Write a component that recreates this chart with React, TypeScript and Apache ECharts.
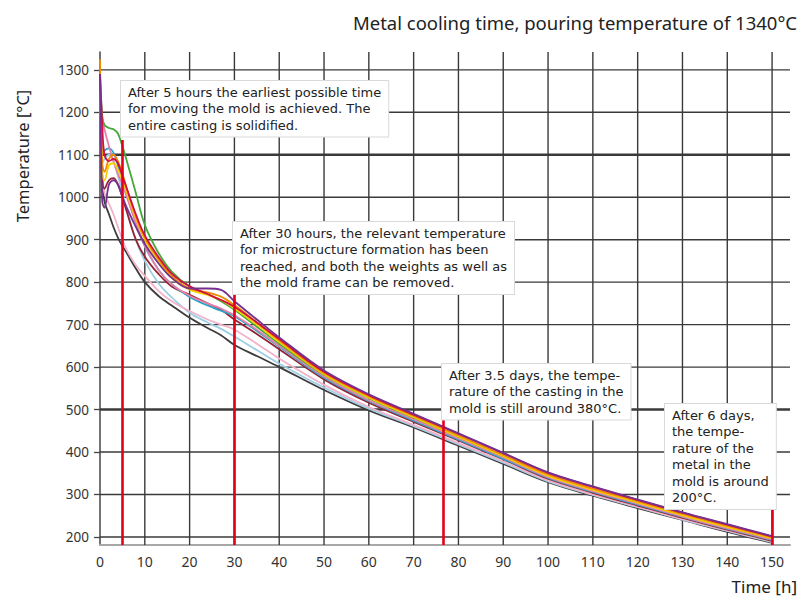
import React, { useEffect, useRef } from 'react';
import * as echarts from 'echarts';

// Time axis (hours) shared by all cooling curves
const hours = [0, 0.5, 1, 2, 3, 4, 5, 6, 8, 10, 13, 16, 20, 24, 27, 30, 35, 40, 50, 60, 70, 80, 90, 100, 110, 120, 130, 140, 150];

// Temperature readings [°C] per thermocouple curve
const darkGray = [1290, 1040, 990, 960, 930, 905, 885, 868, 832, 800, 768, 745, 716, 692, 675, 652, 626, 600, 546, 498, 458, 415, 372, 329, 297, 268, 240, 212, 186];
const lightBlue = [1290, 1080, 1090, 1100, 1085, 1050, 1010, 970, 900, 850, 798, 764, 728, 705, 690, 672, 640, 608, 552, 502, 461, 418, 375, 331, 299, 270, 241, 214, 188];
const lightPink = [1290, 1060, 1010, 985, 960, 930, 900, 875, 840, 815, 780, 755, 732, 712, 700, 688, 655, 620, 558, 506, 464, 421, 378, 333, 300, 271, 242, 215, 189];
const brown = [1290, 1050, 1020, 1040, 1045, 1030, 1000, 965, 900, 860, 820, 790, 770, 750, 735, 712, 678, 642, 571, 516, 471, 427, 383, 337, 304, 274, 245, 217, 191];
const cyan = [1290, 1100, 1110, 1115, 1105, 1075, 1040, 1005, 940, 885, 830, 795, 765, 745, 733, 720, 685, 648, 575, 520, 474, 429, 384, 339, 306, 276, 247, 219, 193];
const pink = [1290, 1190, 1160, 1120, 1085, 1055, 1030, 1000, 940, 885, 830, 795, 768, 750, 738, 722, 688, 650, 578, 522, 477, 432, 387, 341, 308, 278, 248, 220, 194];
const green = [1290, 1190, 1170, 1163, 1160, 1150, 1120, 1085, 1010, 935, 870, 825, 790, 772, 755, 735, 695, 655, 582, 527, 481, 436, 390, 345, 312, 282, 252, 224, 197];
const yellow = [1290, 1050, 1040, 1075, 1080, 1065, 1040, 1010, 950, 900, 850, 810, 782, 770, 758, 738, 700, 659, 583, 528, 482, 436, 390, 344, 311, 281, 251, 223, 197];
const orange = [1325, 1080, 1060, 1090, 1100, 1085, 1055, 1020, 955, 905, 855, 815, 785, 776, 766, 746, 705, 663, 586, 531, 485, 439, 393, 347, 314, 284, 254, 226, 199];
const red = [1290, 1170, 1100, 1085, 1090, 1080, 1050, 1020, 960, 910, 860, 820, 790, 772, 758, 742, 705, 666, 589, 534, 488, 443, 397, 351, 318, 287, 257, 229, 201];
const purple = [1290, 990, 975, 1030, 1040, 1030, 1000, 975, 930, 890, 845, 810, 785, 785, 782, 755, 712, 670, 592, 536, 490, 444, 398, 352, 319, 288, 258, 230, 202];

const curves = [
  { name: 'T1', color: '#3c3c3c', values: darkGray },
  { name: 'T2', color: '#9ccfe6', values: lightBlue },
  { name: 'T3', color: '#f2b2ca', values: lightPink },
  { name: 'T4', color: '#962235', values: brown },
  { name: 'T5', color: '#22a6c8', values: cyan },
  { name: 'T6', color: '#e77fad', values: pink },
  { name: 'T7', color: '#45a838', values: green },
  { name: 'T8', color: '#f4d000', values: yellow },
  { name: 'T9', color: '#f18a00', values: orange },
  { name: 'T10', color: '#cf1040', values: red },
  { name: 'T11', color: '#76308f', values: purple },
];

// Axis ticks and grid
const xTicks = [0, 10, 20, 30, 40, 50, 60, 70, 80, 90, 100, 110, 120, 130, 140, 150];
const yTicks = [200, 300, 400, 500, 600, 700, 800, 900, 1000, 1100, 1200, 1300];
const boldYLines = [500, 1100];

// Red milestone markers: hour and top temperature of the marker line
const markerHours = [5, 30, 76.5, 150];
const markerTops = [1135, 780, 478, 282];

const Y_MIN = 181;
const Y_MAX = 1342;
const X_MAX = 154;

const FONT = '"Noto Sans", "Open Sans", sans-serif';
const NOTE_FONT = '"DejaVu Sans", "Noto Sans", sans-serif';

const notes = [
  { left: 120, top: 80, text: 'After 5 hours the earliest possible time\nfor moving the mold is achieved. The\nentire casting is solidified.' },
  { left: 232, top: 221, text: 'After 30 hours, the relevant temperature\nfor microstructure formation has been\nreached, and both the weights as well as\nthe mold frame can be removed.' },
  { left: 441, top: 363, text: 'After 3.5 days, the tempe-\nrature of the casting in the\nmold is still around 380°C.' },
  { left: 664, top: 403, text: 'After 6 days,\nthe tempe-\nrature of the\nmetal in the\nmold is around\n200°C.' },
];

export default function App() {
  const ref = useRef<HTMLDivElement>(null);
  useEffect(() => {
    const chart = echarts.init(ref.current!, null, { renderer: 'svg' });
    const redLines = markerHours.map((h, i) => [
      { coord: [h, markerTops[i]] },
      { coord: [h, Y_MIN] },
    ]);
    chart.setOption({
      animation: false,
      backgroundColor: '#fff',
      title: {
        text: 'Metal cooling time, pouring temperature of 1340°C',
        right: 0,
        top: 8,
        textStyle: { fontSize: 18.5, fontWeight: 'normal', fontFamily: FONT, color: '#222' },
      },
      grid: { left: 100, right: 12, top: 52, bottom: 55 },
      xAxis: {
        type: 'value',
        min: 0,
        max: X_MAX,
        axisLine: { show: true, onZero: false, lineStyle: { color: '#a8a8a8', width: 2 } },
        axisTick: { show: false },
        splitLine: { show: false },
        axisLabel: { customValues: xTicks, color: '#333', fontSize: 14, fontFamily: FONT, margin: 9 },
      },
      yAxis: {
        type: 'value',
        min: Y_MIN,
        max: Y_MAX,
        axisLine: { show: true, lineStyle: { color: '#444', width: 1.5 } },
        axisTick: { show: true, customValues: yTicks, length: 6, lineStyle: { color: '#444', width: 1.3 } },
        splitLine: { show: false },
        axisLabel: {
          customValues: yTicks,
          color: '#333',
          fontSize: 13.5,
          fontFamily: FONT,
          margin: 11,
          formatter: (v: number) => String(v),
        },
      },
      series: [
        {
          type: 'custom',
          name: 'hgrid',
          silent: true,
          z: 1,
          data: yTicks.map((v) => [0, v]),
          renderItem: (params: any, api: any) => {
            const v = api.value(1);
            const y = api.coord([0, v])[1];
            const cs = params.coordSys;
            return {
              type: 'line',
              shape: { x1: cs.x, y1: y, x2: cs.x + cs.width, y2: y },
              style: { stroke: '#3a3a3a', lineWidth: boldYLines.includes(v) ? 2.6 : 1.4 },
            };
          },
        },
        {
          type: 'custom',
          name: 'vgrid',
          silent: true,
          z: 1,
          data: xTicks.filter((v) => v > 0).map((v) => [v, Y_MIN]),
          renderItem: (params: any, api: any) => {
            const x = api.coord([api.value(0), Y_MIN])[0];
            const cs = params.coordSys;
            return {
              type: 'line',
              shape: { x1: x, y1: cs.y, x2: x, y2: cs.y + cs.height },
              style: { stroke: '#3a3a3a', lineWidth: 1.4 },
            };
          },
        },
        ...curves.map((c) => ({
          type: 'line',
          name: c.name,
          data: hours.map((h, i) => [h, c.values[i]]),
          showSymbol: false,
          smooth: 0.35,
          z: 3,
          lineStyle: { color: c.color, width: 1.8 },
          itemStyle: { color: c.color },
        })),
        {
          type: 'line',
          name: 'markers',
          data: [],
          silent: true,
          markLine: {
            silent: true,
            z: 10,
            symbol: ['none', 'none'],
            label: { show: false },
            lineStyle: { color: '#e2001a', width: 2.6, type: 'solid' },
            data: redLines,
          },
        },
      ],
      graphic: [
        {
          type: 'text',
          x: 22,
          y: 156,
          rotation: Math.PI / 2,
          z: 100,
          style: { text: 'Temperature [°C]', font: `16.5px ${FONT}`, fill: '#222', textAlign: 'center', textVerticalAlign: 'middle' },
        },
        {
          type: 'text',
          x: 797,
          y: 586,
          z: 100,
          style: { text: 'Time [h]', font: `17px ${FONT}`, fill: '#222', textAlign: 'right', textVerticalAlign: 'middle' },
        },
        ...notes.map((n) => ({
          type: 'text',
          left: n.left,
          top: n.top,
          z: 100,
          style: {
            text: n.text,
            font: `13px ${NOTE_FONT}`,
            lineHeight: 16.5,
            fill: '#222',
            backgroundColor: '#fff',
            borderColor: '#d9d9d9',
            borderWidth: 1,
            padding: [3, 7, 3, 7],
          },
        })),
      ],
    });
    return () => chart.dispose();
  }, []);
  return <div ref={ref} style={{ position: 'absolute', left: 0, top: 0, width: 802, height: 600 }} />;
}
